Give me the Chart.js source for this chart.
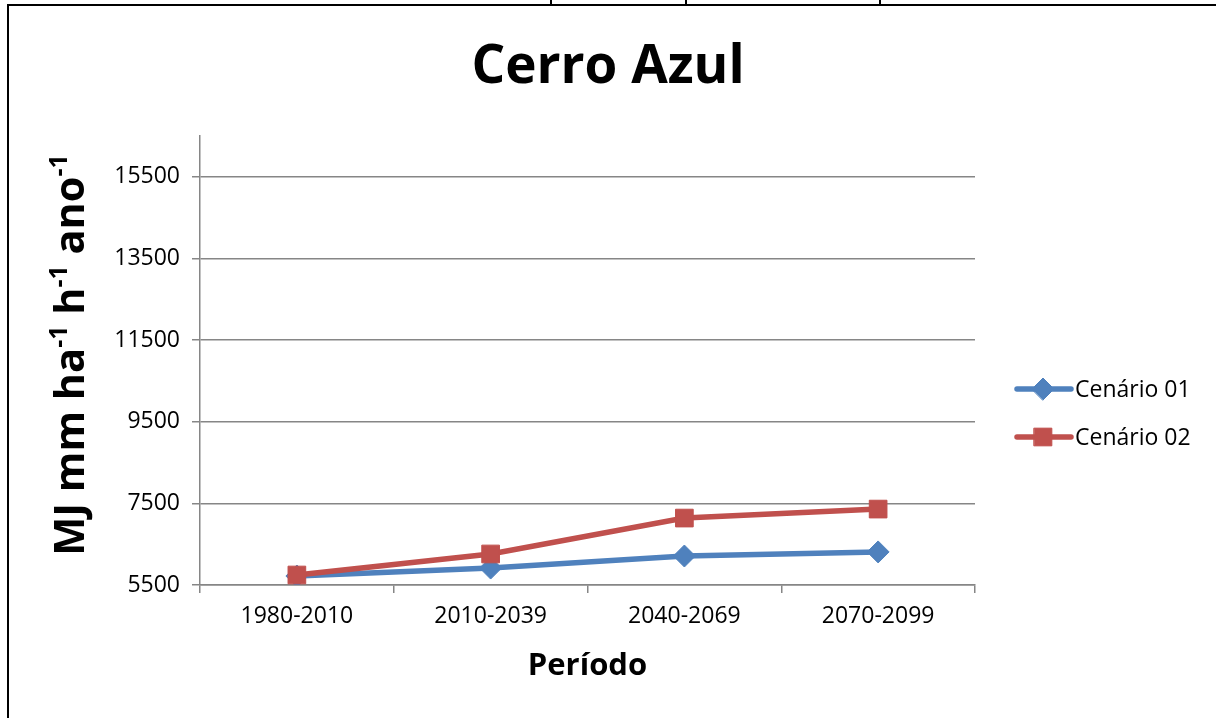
<!DOCTYPE html>
<html>
<head>
<meta charset="utf-8">
<script src="https://cdn.jsdelivr.net/npm/chart.js@4"></script>
<style>
  html, body { margin: 0; padding: 0; background: #fff; }
  #wrap { position: relative; width: 1216px; height: 718px; overflow: hidden; }
  #frame { position: absolute; left: 7px; top: 4px; width: 1300px; height: 800px; border: 2px solid #000; box-sizing: border-box; }
  .cut { position: absolute; top: 0; width: 2px; height: 4px; background: #000; }
  canvas { position: absolute; left: 0; top: 0; }
</style>
</head>
<body>
<div id="wrap">
  <div id="frame"></div>
  <div class="cut" style="left:550px"></div>
  <div class="cut" style="left:685px"></div>
  <div class="cut" style="left:879px"></div>
  <canvas id="chart" width="1216" height="718"></canvas>
</div>
<script>
const periods = ['1980-2010', '2010-2039', '2040-2069', '2070-2099'];
const cenario01 = [5720, 5915, 6210, 6310];
const cenario02 = [5745, 6260, 7140, 7360];
const yTicks = [5500, 7500, 9500, 11500, 13500, 15500];

const BLUE = '#4f81bd';
const RED = '#c0504d';
const GRID = '#868686';
const FONT = "'Open Sans', sans-serif";

// y title with superscripts, drawn rotated
const yTitlePlugin = {
  id: 'yTitle',
  afterDraw(chart) {
    const ctx = chart.ctx;
    const parts = [['MJ mm ha', false], ['-1', true], [' h', false], ['-1', true], [' ano', false], ['-1', true]];
    let size = 38;
    const measure = (s) => {
      let w = 0;
      parts.forEach(([t, sup]) => {
        ctx.font = `bold ${sup ? Math.round(s * 0.6) : s}px ${FONT}`;
        w += ctx.measureText(t).width;
      });
      return w;
    };
    ctx.save();
    size = size * 402 / measure(size);
    const total = measure(size);
    ctx.translate(84, 355);
    ctx.rotate(-Math.PI / 2);
    ctx.fillStyle = '#000';
    ctx.textBaseline = 'alphabetic';
    ctx.textAlign = 'left';
    let x = -total / 2;
    parts.forEach(([t, sup]) => {
      ctx.font = `bold ${sup ? Math.round(size * 0.6) : size}px ${FONT}`;
      ctx.fillText(t, x, sup ? -size * 0.42 : 0);
      x += ctx.measureText(t).width;
    });
    ctx.restore();
  }
};

// legend: line + marker + label on the right
const legendPlugin = {
  id: 'sideLegend',
  afterDraw(chart) {
    const ctx = chart.ctx;
    const items = [
      { label: 'Cenário 01', color: BLUE, style: 'rectRot', r: 11, y: 389 },
      { label: 'Cenário 02', color: RED, style: 'rect', r: 12.5, y: 437 }
    ];
    ctx.save();
    items.forEach(it => {
      ctx.strokeStyle = it.color;
      ctx.lineWidth = 5.5;
      ctx.lineCap = 'round';
      ctx.beginPath();
      ctx.moveTo(1017, it.y);
      ctx.lineTo(1071, it.y);
      ctx.stroke();
      ctx.fillStyle = it.color;
      ctx.lineWidth = 1;
      Chart.helpers.drawPoint(ctx, { pointStyle: it.style, radius: it.r, borderWidth: 1 }, 1043, it.y);
      ctx.fillStyle = '#000';
      ctx.font = `23px ${FONT}`;
      ctx.textBaseline = 'middle';
      ctx.textAlign = 'left';
      ctx.fillText(it.label, 1075, it.y + 1);
    });
    ctx.restore();
  }
};

new Chart(document.getElementById('chart'), {
  type: 'line',
  data: {
    labels: periods,
    datasets: [
      {
        label: 'Cenário 01',
        data: cenario01,
        borderColor: BLUE,
        backgroundColor: BLUE,
        borderWidth: 5.5,
        pointStyle: 'rectRot',
        pointRadius: 11,
        pointBorderWidth: 1,
        tension: 0,
        order: 1
      },
      {
        label: 'Cenário 02',
        data: cenario02,
        borderColor: RED,
        backgroundColor: RED,
        borderWidth: 5.5,
        pointStyle: 'rect',
        pointRadius: 12.5,
        pointBorderWidth: 1,
        tension: 0,
        order: 0
      }
    ]
  },
  options: {
    responsive: false,
    animation: false,
    layout: { padding: 0 },
    plugins: {
      legend: { display: false },
      tooltip: { enabled: false },
      title: {
        display: true,
        text: 'Cerro Azul',
        color: '#000',
        font: { family: FONT, size: 53, weight: 'bold', lineHeight: 1.2 },
        padding: { top: 36, bottom: 36.4 }
      }
    },
    scales: {
      x: {
        offset: true,
        grid: { offset: true, drawOnChartArea: false, tickLength: 8, color: GRID, lineWidth: 1.5 },
        border: { color: GRID, width: 1.5 },
        ticks: { color: '#000', font: { family: FONT, size: 23 }, padding: 10, maxRotation: 0 },
        title: {
          display: true,
          text: 'Período',
          color: '#000',
          font: { family: FONT, size: 31, weight: 'bold', lineHeight: 1.2 },
          padding: { top: 4, bottom: 33 }
        },
        afterFit: s => { s.height = 133; }
      },
      y: {
        min: 5500,
        max: 16500,
        afterBuildTicks: s => { s.ticks = yTicks.map(v => ({ value: v })); },
        grid: { tickLength: 8, color: GRID, lineWidth: 1.5 },
        border: { color: GRID, width: 1.5 },
        ticks: { color: '#000', font: { family: FONT, size: 23 }, padding: 12, callback: v => String(v) },
        afterFit: s => { s.width = 200; }
      },
      // empty right-hand space where the legend sits
      side: {
        position: 'right',
        min: 5500,
        max: 16500,
        grid: { display: false },
        border: { display: false },
        ticks: { display: false },
        afterFit: s => { s.width = 241; }
      }
    }
  },
  plugins: [yTitlePlugin, legendPlugin]
});
</script>
</body>
</html>
